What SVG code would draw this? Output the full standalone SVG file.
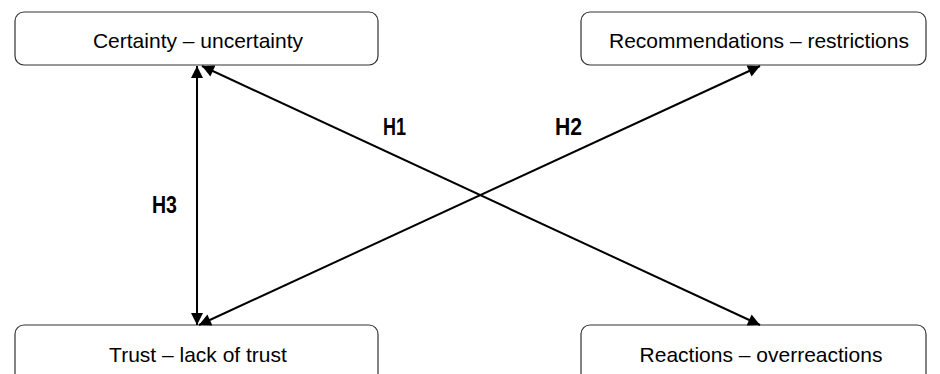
<svg xmlns="http://www.w3.org/2000/svg" width="940" height="374" viewBox="0 0 940 374">
<style>
.box{fill:#fff;stroke:#333;stroke-width:1.2}
.t{font-family:"Liberation Sans",Arial,sans-serif;font-size:21px;fill:#000;text-anchor:middle}
.h{font-family:"Liberation Sans",Arial,sans-serif;font-size:24px;font-weight:bold;fill:#000}
.c{stroke:#000;stroke-width:2;fill:none;marker-start:url(#ah);marker-end:url(#ah)}
</style>
<defs>
<marker id="ah" viewBox="0 0 10 10" refX="10" refY="5" markerUnits="userSpaceOnUse" markerWidth="15" markerHeight="12" orient="auto-start-reverse">
<path d="M0,0 L10,5 L0,10 z" fill="#000"/>
</marker>
</defs>
<rect width="940" height="374" fill="#fff"/>
<g id="certainty">
<rect class="box" x="15" y="12" width="363" height="53" rx="9"/>
<text class="t" x="198" y="48">Certainty – uncertainty</text>
</g>
<g id="recommendations">
<rect class="box" x="581" y="12" width="345" height="53" rx="9"/>
<text class="t" x="759" y="48">Recommendations – restrictions</text>
</g>
<g id="trust">
<rect class="box" x="15" y="325" width="363" height="70" rx="9"/>
<text class="t" x="198" y="362">Trust – lack of trust</text>
</g>
<g id="reactions">
<rect class="box" x="581" y="325" width="345" height="70" rx="9"/>
<text class="t" x="761" y="362">Reactions – overreactions</text>
</g>
<g id="connectors">
<line class="c" x1="197" y1="66" x2="197" y2="325"/>
<line class="c" x1="202" y1="66" x2="760" y2="325"/>
<line class="c" x1="199" y1="325" x2="760" y2="66"/>
<text class="h" x="383" y="135" textLength="23" lengthAdjust="spacingAndGlyphs">H1</text>
<text class="h" x="555" y="135" textLength="27" lengthAdjust="spacingAndGlyphs">H2</text>
<text class="h" x="152" y="213" textLength="25" lengthAdjust="spacingAndGlyphs">H3</text>
</g>
</svg>
